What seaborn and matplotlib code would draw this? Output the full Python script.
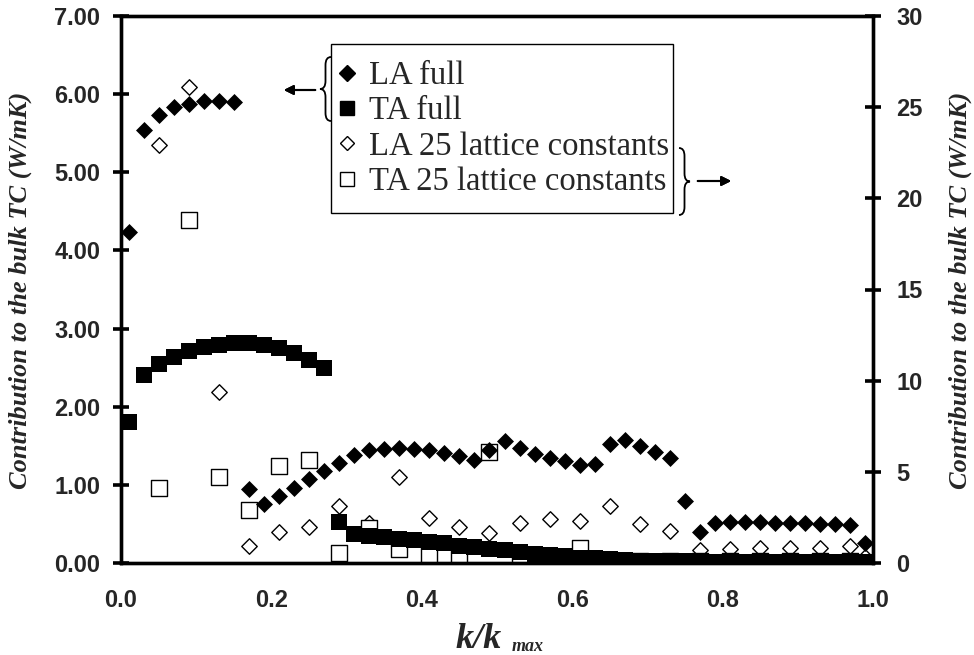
import matplotlib
matplotlib.use("Agg")
import matplotlib.pyplot as plt
from matplotlib.path import Path
from matplotlib.patches import PathPatch, Rectangle
from matplotlib.lines import Line2D
import seaborn as sns
import pandas as pd

# ---------------- data ----------------
k_full = [0.01, 0.03, 0.05, 0.07, 0.09, 0.11, 0.13, 0.15, 0.17, 0.19,
          0.21, 0.23, 0.25, 0.27, 0.29, 0.31, 0.33, 0.35, 0.37, 0.39,
          0.41, 0.43, 0.45, 0.47, 0.49, 0.51, 0.53, 0.55, 0.57, 0.59,
          0.61, 0.63, 0.65, 0.67, 0.69, 0.71, 0.73, 0.75, 0.77, 0.79,
          0.81, 0.83, 0.85, 0.87, 0.89, 0.91, 0.93, 0.95, 0.97, 0.99]
la_full = [4.23, 5.54, 5.73, 5.83, 5.87, 5.91, 5.91, 5.90, 0.95, 0.76,
           0.86, 0.96, 1.07, 1.18, 1.28, 1.38, 1.44, 1.46, 1.47, 1.46,
           1.44, 1.41, 1.37, 1.32, 1.44, 1.56, 1.47, 1.40, 1.34, 1.30,
           1.26, 1.27, 1.52, 1.57, 1.50, 1.42, 1.34, 0.79, 0.40, 0.51,
           0.52, 0.52, 0.52, 0.51, 0.51, 0.51, 0.50, 0.50, 0.49, 0.26]
ta_full = [1.81, 2.40, 2.55, 2.64, 2.71, 2.77, 2.79, 2.81, 2.81, 2.79,
           2.75, 2.69, 2.60, 2.50, 0.53, 0.37, 0.35, 0.33, 0.31, 0.29,
           0.27, 0.25, 0.22, 0.20, 0.18, 0.16, 0.14, 0.12, 0.10, 0.09,
           0.07, 0.06, 0.05, 0.04, 0.03, 0.03, 0.02, 0.02, 0.02, 0.01,
           0.01, 0.01, 0.01, 0.01, 0.01, 0.01, 0.01, 0.01, 0.01, 0.01]

k_la25 = [0.05, 0.09, 0.13, 0.17, 0.21, 0.25, 0.29, 0.33, 0.37, 0.41,
          0.45, 0.49, 0.53, 0.57, 0.61, 0.65, 0.69, 0.73, 0.77, 0.81,
          0.85, 0.89, 0.93, 0.97, 0.99]
la_25 = [22.9, 26.1, 9.36, 0.95, 1.72, 2.00, 3.13, 2.20, 4.71, 2.45,
         2.00, 1.63, 2.18, 2.40, 2.33, 3.13, 2.12, 1.76, 0.71, 0.75,
         0.81, 0.81, 0.81, 0.93, 0.35]

k_ta25 = [0.05, 0.09, 0.13, 0.17, 0.21, 0.25, 0.29, 0.33, 0.37, 0.41,
          0.45, 0.49, 0.53, 0.57, 0.61, 0.65, 0.69, 0.73, 0.77, 0.81,
          0.85, 0.89, 0.93, 0.97]
ta_25 = [4.10, 18.8, 4.74, 2.91, 5.33, 5.66, 0.53, 1.90, 0.75, 0.45,
         0.35, 6.10, 0.10, 0.10, 0.85, 0.10, 0.10, 0.10, 0.10, 0.10,
         0.10, 0.10, 0.10, 0.10]

left_ticks = [0, 1, 2, 3, 4, 5, 6, 7]
right_ticks = [0, 5, 10, 15, 20, 25, 30]
x_ticks = [0.0, 0.2, 0.4, 0.6, 0.8, 1.0]

labels = ["LA full", "TA full", "LA 25 lattice constants", "TA 25 lattice constants"]
y_title = "Contribution to the bulk TC (W/mK)"

df_full = pd.DataFrame({"k": k_full, "LA": la_full, "TA": ta_full})
df_la25 = pd.DataFrame({"k": k_la25, "v": la_25})
df_ta25 = pd.DataFrame({"k": k_ta25, "v": ta_25})

# ---------------- style ----------------
sns.set_style("white")
plt.rcParams["font.family"] = ["Liberation Sans", "DejaVu Sans"]

W, H = 974, 655
fig = plt.figure(figsize=(W / 100, H / 100), dpi=100)
L, R, T, B = 121, 873, 16, 563
ax = fig.add_axes([L / W, 1 - B / H, (R - L) / W, (B - T) / H])
ax2 = ax.twinx()

# open markers (right axis) underneath filled markers (left axis)
ax.set_zorder(ax2.get_zorder() + 1)
ax.patch.set_visible(False)

sns.scatterplot(data=df_la25, x="k", y="v", ax=ax2, marker="D", s=62,
                color="white", edgecolor="black", linewidth=1.0, legend=False)
sns.scatterplot(data=df_ta25, x="k", y="v", ax=ax2, marker="s", s=128,
                color="white", edgecolor="black", linewidth=1.0, legend=False)
sns.scatterplot(data=df_full, x="k", y="TA", ax=ax, marker="s", s=125,
                color="black", edgecolor="black", linewidth=0, legend=False)
sns.scatterplot(data=df_full, x="k", y="LA", ax=ax, marker="D", s=75,
                color="black", edgecolor="black", linewidth=0, legend=False)

ax.set_xlim(0, 1)
ax.set_ylim(0, 7)
ax2.set_ylim(0, 30)
ax.set_xticks(x_ticks)
ax.set_xticklabels([f"{t:.1f}" for t in x_ticks])
ax.set_yticks(left_ticks)
ax.set_yticklabels([f"{t:.2f}" for t in left_ticks])
ax2.set_yticks(right_ticks)
ax2.set_yticklabels([str(t) for t in right_ticks])

for a in (ax, ax2):
    for sp in a.spines.values():
        sp.set_linewidth(2.4)
        sp.set_color("black")
    a.tick_params(direction="inout", length=12, width=2.6, color="black",
                  labelsize=17, pad=9)
    for lab in a.get_xticklabels() + a.get_yticklabels():
        lab.set_fontweight("bold")
ax.tick_params(axis="x", pad=13)
ax2.tick_params(axis="y", pad=11)
ax.grid(False)
ax2.grid(False)
ax.set_xlabel("")
ax.set_ylabel("")
ax2.set_ylabel("")

label_font = dict(family="Liberation Serif", weight="bold", style="italic", size=19)
fig.text(20 / W, 1 - 290 / H, y_title, rotation=90,
         ha="center", va="center", **label_font)
fig.text(960 / W, 1 - 290 / H, y_title, rotation=90,
         ha="center", va="center", **label_font)
# x label: k/k with subscript "max"
fig.text(456 / W, 1 - 648 / H, "k/k", ha="left", va="baseline",
         family="Liberation Serif", weight="bold", style="italic", size=26)
fig.text(512 / W, 1 - 651 / H, "max", ha="left", va="baseline",
         family="Liberation Serif", weight="bold", style="italic", size=13)


def px(x, y):
    return (x / W, 1 - y / H)


# ---------------- legend ----------------
handles = [
    Line2D([], [], ls="none", marker="D", ms=8.5, mfc="black", mec="black"),
    Line2D([], [], ls="none", marker="s", ms=10, mfc="black", mec="black"),
    Line2D([], [], ls="none", marker="D", ms=7.5, mfc="white", mec="black", mew=1.0),
    Line2D([], [], ls="none", marker="s", ms=10.5, mfc="white", mec="black", mew=1.0),
]
leg = ax.legend(handles, labels, loc="upper left",
                bbox_to_anchor=px(331, 51), bbox_transform=fig.transFigure,
                prop=dict(family="Liberation Serif", size=23.5), frameon=False,
                borderpad=0.29, labelspacing=0.15,
                handlelength=0.4, handletextpad=0.48, borderaxespad=0)
fig.add_artist(Rectangle(px(331, 213), (673 - 331) / W, (213 - 44) / H,
                         transform=fig.transFigure, facecolor="none",
                         edgecolor="black", lw=1.0, zorder=5))


def brace(x_end, x_tip, y0, y1, r=8):
    xm = (x_end + x_tip) / 2
    ym = (y0 + y1) / 2
    verts = [px(x_end, y0), px(xm, y0), px(xm, y0 + r),
             px(xm, ym - r),
             px(xm, ym), px(x_tip, ym),
             px(xm, ym), px(xm, ym + r),
             px(xm, y1 - r),
             px(xm, y1), px(x_end, y1)]
    codes = [Path.MOVETO, Path.CURVE3, Path.CURVE3,
             Path.LINETO,
             Path.CURVE3, Path.CURVE3,
             Path.CURVE3, Path.CURVE3,
             Path.LINETO,
             Path.CURVE3, Path.CURVE3]
    patch = PathPatch(Path(verts, codes), transform=fig.transFigure,
                      facecolor="none", edgecolor="black", lw=1.3)
    fig.add_artist(patch)


brace(331, 320, 57, 121)
brace(679, 690, 148, 215)
fig.add_artist(plt.annotate("", xy=px(281, 90), xytext=px(318, 90),
                            xycoords="figure fraction", textcoords="figure fraction",
                            arrowprops=dict(arrowstyle="-|>", color="black", lw=1.5,
                                            mutation_scale=14)))
fig.add_artist(plt.annotate("", xy=px(734, 181), xytext=px(695, 181),
                            xycoords="figure fraction", textcoords="figure fraction",
                            arrowprops=dict(arrowstyle="-|>", color="black", lw=1.5,
                                            mutation_scale=14)))

fig.savefig("out.png", dpi=100)
